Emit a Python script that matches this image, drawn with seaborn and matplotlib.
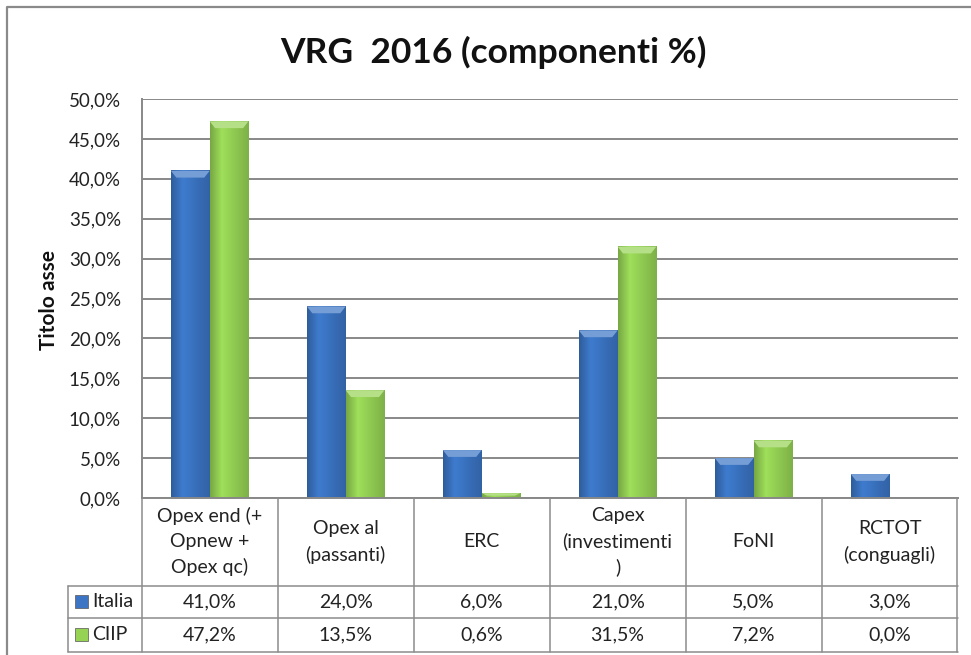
import matplotlib
matplotlib.use('Agg')
import matplotlib.pyplot as plt
import matplotlib.colors as mcolors
import seaborn as sns
import pandas as pd
import numpy as np
from matplotlib.lines import Line2D
from matplotlib.patches import Rectangle, Polygon

# --- data ---
categories = ['Opex end (+\nOpnew +\nOpex qc)', 'Opex al\n(passanti)', 'ERC',
              'Capex\n(investimenti\n)', 'FoNI', 'RCTOT\n(conguagli)']
series = ['Italia', 'CIIP']
italia = [41.0, 24.0, 6.0, 21.0, 5.0, 3.0]
ciip = [47.2, 13.5, 0.6, 31.5, 7.2, 0.0]
y_ticks = [0, 5, 10, 15, 20, 25, 30, 35, 40, 45, 50]
title = 'VRG  2016 (componenti %)'
y_title = 'Titolo asse'

colors = {'Italia': '#3B75C4', 'CIIP': '#96D355'}

rows = []
for cat, a, b in zip(categories, italia, ciip):
    rows.append({'cat': cat, 'serie': 'Italia', 'val': a})
    rows.append({'cat': cat, 'serie': 'CIIP', 'val': b})
df = pd.DataFrame(rows)

sns.set_theme(style='white')
plt.rcParams['font.family'] = ['Lato', 'DejaVu Sans']

W, H = 971, 655
fig = plt.figure(figsize=(W / 100, H / 100), dpi=100)
fig.patch.set_facecolor('white')

# plot area in pixels
x_left, x_right = 141.7, 957.5
y_top, y_bot = 99, 498


def fx(px):
    return px / W


def fy(py):
    return 1 - py / H


ax = fig.add_axes([fx(x_left), fy(y_bot), fx(x_right - x_left), (y_bot - y_top) / H])
sns.barplot(data=df, x='cat', y='val', hue='serie', order=categories, hue_order=series,
            palette=colors, width=0.57, gap=0, saturation=1, legend=False, ax=ax,
            edgecolor='none')

# gradient + bevel look of the Excel bars
for p in list(ax.patches):
    h = p.get_height()
    if h <= 0:
        continue
    x0, w = p.get_x(), p.get_width()
    base = np.array(mcolors.to_rgb(p.get_facecolor()))
    shade = np.concatenate([np.linspace(0.80, 1.05, 10), np.linspace(1.05, 0.84, 22)])
    img = np.clip(base[None, None, :] * shade[None, :, None], 0, 1)
    ax.imshow(img, extent=(x0, x0 + w, 0, h), aspect='auto', zorder=2.1,
              interpolation='bilinear')
    bh = min(0.85, h * 0.5)
    bw = w * 0.14
    light = base + (1 - base) * 0.3
    ax.add_patch(Polygon([(x0, h), (x0 + w, h), (x0 + w - bw, h - bh), (x0 + bw, h - bh)],
                         closed=True, facecolor=light, edgecolor='none', zorder=2.2))

ax.set_xlim(-0.5, len(categories) - 0.5)
ax.set_ylim(0, 50)
ax.set_yticks(y_ticks)
ax.set_yticklabels([f'{t:.1f}%'.replace('.', ',') for t in y_ticks], fontsize=13.5, color='#222222')
ax.set_xticks([])
ax.set_xlabel('')
ax.set_ylabel('')
ax.yaxis.grid(True, color='#888888', linewidth=1.4)
ax.set_axisbelow(True)
ax.tick_params(axis='y', length=0, pad=15)
for s in ['top', 'right']:
    ax.spines[s].set_visible(False)
for s in ['left', 'bottom']:
    ax.spines[s].set_color('#888888')
    ax.spines[s].set_linewidth(1.4)

# title and axis title
fig.text(fx(493), fy(52), title, ha='center', va='center', fontsize=25.5,
         fontweight='bold', color='#111111')
fig.text(fx(49), fy(300), y_title, ha='center', va='center', rotation=90,
         fontsize=15, fontweight='bold', color='#111111')

# data table below the plot
line_c = '#8C8C8C'
row1, row2, row3 = 585.7, 618, 651.7
lab_left = 68
n = len(categories)
col_x = [x_left + k * (x_right - x_left) / n for k in range(n + 1)]


def hline(y, x1, x2):
    fig.add_artist(Line2D([fx(x1), fx(x2)], [fy(y), fy(y)], color=line_c, lw=1.1))


def vline(x, y1, y2):
    fig.add_artist(Line2D([fx(x), fx(x)], [fy(y1), fy(y2)], color=line_c, lw=1.1))


for x in col_x:
    vline(x, y_bot, row3)
vline(lab_left, row1, row3)
for y in (row1, row2, row3):
    hline(y, lab_left, x_right)

for k, cat in enumerate(categories):
    cx = (col_x[k] + col_x[k + 1]) / 2
    fig.text(fx(cx), fy((y_bot + row1) / 2), cat, ha='center', va='center',
             fontsize=14, color='#222222', linespacing=1.55)
    fig.text(fx(cx), fy((row1 + row2) / 2), f'{italia[k]:.1f}%'.replace('.', ','),
             ha='center', va='center', fontsize=14, color='#222222')
    fig.text(fx(cx), fy((row2 + row3) / 2), f'{ciip[k]:.1f}%'.replace('.', ','),
             ha='center', va='center', fontsize=14, color='#222222')

for name, (ya, yb) in zip(series, [(row1, row2), (row2, row3)]):
    cy = (ya + yb) / 2
    fig.add_artist(Rectangle((fx(75), fy(cy + 6.5)), fx(13), 13 / H,
                             facecolor=colors[name], edgecolor='#555555', lw=0.5))
    fig.text(fx(92), fy(cy), name, ha='left', va='center', fontsize=14, color='#222222')

# chart border (cropped on right and bottom)
fig.add_artist(Line2D([fx(7), fx(7), fx(W + 5)], [fy(H + 5), fy(7), fy(7)],
                      color='#8A8A8A', lw=1.6))

fig.savefig('out.png', dpi=100)
